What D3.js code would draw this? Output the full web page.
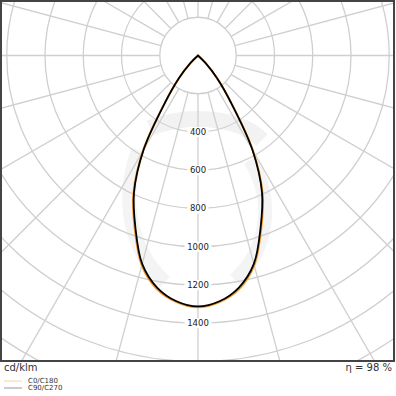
<!DOCTYPE html>
<html>
<head>
<meta charset="utf-8">
<script src="https://cdn.jsdelivr.net/npm/d3@7"></script>
<style>
    body { margin: 0; background: #fff; }
    svg { display: block; font-family: "DejaVu Sans", sans-serif; }
</style>
</head>
<body>
<div id="chart"></div>
<script>
// gamma angles (deg from nadir) and intensities in cd/klm
const gammaAngles = [0, 5, 10, 15, 20, 25, 30, 35, 40, 45, 50, 55];
const intensityC0C180 = [1316, 1294, 1240, 1136, 966, 800, 575, 304, 156, 55, 0, 0];
const intensityC90C270 = [1312, 1290, 1232, 1128, 957, 792, 568, 300, 154, 55, 0, 0];

const ringValues = [200, 400, 600, 800, 1000, 1200, 1400, 1600, 1800, 2000];
const ringLabels = [400, 600, 800, 1000, 1200, 1400];
const spokeAngles = d3.range(0, 360, 15);

const seriesNames = ["C0/C180", "C90/C270"];
const efficiency = "η = 98 %";
const unitLabel = "cd/klm";

class PolarVis {
    constructor(parentElement) {
        this.parentElement = parentElement;
        this.initVis();
    }

    initVis() {
        let vis = this;

        vis.width = 396;
        vis.height = 396;
        vis.cx = 198;
        vis.cy = 55.5;

        vis.svg = d3.select("#" + vis.parentElement).append("svg")
            .attr("width", vis.width)
            .attr("height", vis.height);

        vis.svg.append("defs").append("clipPath")
            .attr("id", "frame-clip")
            .append("rect")
            .attr("x", 2).attr("y", 2)
            .attr("width", 391).attr("height", 358);

        vis.r = d3.scaleLinear()
            .domain([0, 200])
            .range([0, 38.25]);

        vis.plot = vis.svg.append("g")
            .attr("clip-path", "url(#frame-clip)");

        // faint logo watermark
        vis.plot.append("path")
            .attr("d", "M150,128 C190,112 240,118 262,140")
            .attr("fill", "none")
            .attr("stroke", "#f2f2f2")
            .attr("stroke-width", 16);
        vis.plot.append("path")
            .attr("d", "M138,150 C120,200 130,250 165,282 M250,160 C275,200 268,250 235,280")
            .attr("fill", "none")
            .attr("stroke", "#f4f4f4")
            .attr("stroke-width", 14);

        vis.g = vis.plot.append("g")
            .attr("transform", "translate(" + vis.cx + "," + vis.cy + ")");

        // rings
        vis.g.selectAll(".ring")
            .data(ringValues)
            .enter().append("circle")
            .attr("class", "ring")
            .attr("r", d => vis.r(d))
            .attr("fill", "none")
            .attr("stroke", "#cfcfcf")
            .attr("stroke-width", 1.3);

        // spokes, starting at the inner ring
        vis.g.selectAll(".spoke")
            .data(spokeAngles)
            .enter().append("line")
            .attr("class", "spoke")
            .attr("x1", d => vis.r(200) * Math.cos(d * Math.PI / 180))
            .attr("y1", d => vis.r(200) * Math.sin(d * Math.PI / 180))
            .attr("x2", d => vis.r(2000) * Math.cos(d * Math.PI / 180))
            .attr("y2", d => vis.r(2000) * Math.sin(d * Math.PI / 180))
            .attr("stroke", "#cfcfcf")
            .attr("stroke-width", 1.3);

        // ring labels along nadir
        let labels = vis.g.selectAll(".ring-label")
            .data(ringLabels)
            .enter().append("g")
            .attr("class", "ring-label")
            .attr("transform", d => "translate(0," + vis.r(d) + ")");

        labels.append("rect")
            .attr("x", d => -String(d).length * 3 - 1.5)
            .attr("y", -5)
            .attr("width", d => String(d).length * 6 + 3)
            .attr("height", 10)
            .attr("fill", "#fff");

        labels.append("text")
            .attr("text-anchor", "middle")
            .attr("dy", "0.35em")
            .attr("font-size", 8.5)
            .attr("fill", "#222")
            .text(d => d);

        vis.drawCurves();

        // frame
        vis.svg.append("rect")
            .attr("x", 1).attr("y", 1)
            .attr("width", 393).attr("height", 360)
            .attr("fill", "none")
            .attr("stroke", "#444")
            .attr("stroke-width", 2);

        vis.svg.append("text")
            .attr("x", 4).attr("y", 371)
            .attr("font-size", 10)
            .attr("fill", "#333")
            .text(unitLabel);

        vis.svg.append("text")
            .attr("x", 392).attr("y", 371)
            .attr("text-anchor", "end")
            .attr("font-size", 10)
            .attr("fill", "#333")
            .text(efficiency);

        // legend
        let legendColors = ["#fcd0a0", "#999"];
        let legend = vis.svg.selectAll(".legend")
            .data(seriesNames)
            .enter().append("g")
            .attr("class", "legend")
            .attr("transform", (d, i) => "translate(4," + (381 + i * 7) + ")");

        legend.append("line")
            .attr("x1", 0).attr("x2", 18)
            .attr("stroke", (d, i) => legendColors[i])
            .attr("stroke-width", 1);

        legend.append("text")
            .attr("x", 24)
            .attr("dy", "0.35em")
            .attr("font-size", 7)
            .attr("fill", "#333")
            .text(d => d);
    }

    drawCurves() {
        let vis = this;

        let toPoints = values => {
            let right = gammaAngles.map((g, i) => [Math.PI - g * Math.PI / 180, vis.r(values[i])]);
            let left = gammaAngles.slice(1).reverse()
                .map(g => [Math.PI + g * Math.PI / 180, vis.r(values[gammaAngles.indexOf(g)])]);
            return right.concat(left);
        };

        let line = d3.lineRadial()
            .angle(d => d[0])
            .radius(d => d[1])
            .curve(d3.curveCatmullRomClosed.alpha(0.5));

        vis.g.append("path")
            .attr("d", line(toPoints(intensityC0C180)))
            .attr("fill", "none")
            .attr("stroke", "#f39a2c")
            .attr("stroke-width", 2);

        vis.g.append("path")
            .attr("d", line(toPoints(intensityC90C270)))
            .attr("fill", "none")
            .attr("stroke", "#000")
            .attr("stroke-width", 1.8);
    }
}

new PolarVis("chart");
</script>
</body>
</html>
